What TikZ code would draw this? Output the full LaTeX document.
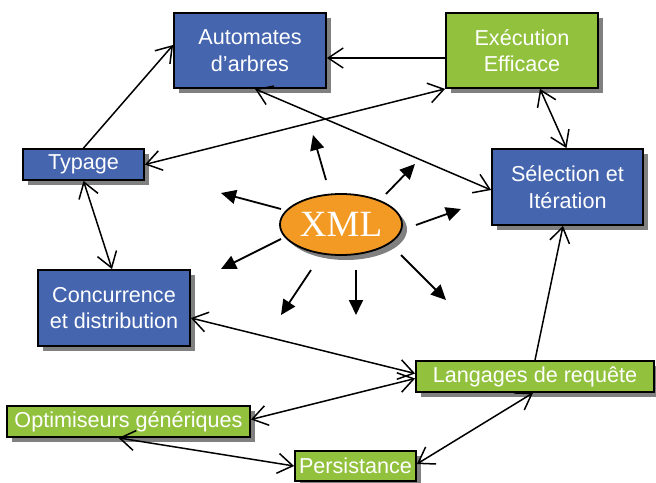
\documentclass[tikz,border=0pt]{standalone}
\usepackage{fontspec}
\setmainfont{Liberation Sans}
\newfontfamily\xmlfont{Liberation Serif}
\usetikzlibrary{shapes.geometric,shadows,arrows.meta}
\definecolor{boxblue}{HTML}{4565AF}
\definecolor{boxgreen}{HTML}{92C13E}
\definecolor{xmlorange}{HTML}{F39A24}
\definecolor{shadowgray}{HTML}{808080}
\tikzset{
  box/.style={draw=black, line width=1.8pt, text=white, align=center, inner sep=0pt,
    font=\fontsize{21.6}{26.5}\selectfont,
    drop shadow={shadow xshift=5pt, shadow yshift=-5pt, fill=shadowgray, opacity=1}},
  bluebox/.style={box, fill=boxblue},
  greenbox/.style={box, fill=boxgreen},
  barb/.tip={Straight Barb[length=15pt,width=20pt,line width=1.5pt]},
  link/.style={line width=1.5pt, -barb},
  dlink/.style={line width=1.5pt, barb-barb},
  ray/.style={line width=1.8pt, -{Triangle[length=15pt,width=14pt]}}
}
\begin{document}
\begin{tikzpicture}[x=1pt,y=-1pt]
\useasboundingbox (0,0) rectangle (656,482);

\node[bluebox, minimum width=152pt, minimum height=75pt] (auto) at (250,50.5) {Automates\\d’arbres};
\node[greenbox, minimum width=152pt, minimum height=75pt] (exe) at (522,50.5) {Exécution\\Efficace};
\node[bluebox, minimum width=151pt, minimum height=76pt] (sel) at (567.5,187) {Sélection et\\Itération};
\node[bluebox, minimum width=121pt, minimum height=31pt] (typ) at (83.5,164.5) {Typage};
\node[bluebox, minimum width=152pt, minimum height=76pt] (con) at (114,308) {Concurrence\\et distribution};
\node[greenbox, minimum width=238pt, minimum height=31pt] (lang) at (535,376.5) {Langages de requête};
\node[greenbox, minimum width=243pt, minimum height=31pt] (opt) at (128.5,421.5) {Optimiseurs génériques};
\node[greenbox, minimum width=121pt, minimum height=30pt] (per) at (355.5,466) {Persistance};

\node[ellipse, draw=black, line width=1.8pt, fill=xmlorange, text=white,
  minimum width=122pt, minimum height=61pt, inner sep=0pt,
  font=\xmlfont\fontsize{37}{37}\selectfont,
  drop shadow={shadow xshift=5pt, shadow yshift=-5pt, fill=shadowgray, opacity=1}] (xml) at (341,224.5) {XML};

% connectors
\draw[link] (typ.north) -- ([yshift=5.5pt]auto.west);
\draw[link] ([yshift=-7.5pt]exe.west) -- ([yshift=-7.5pt]auto.east);
\draw[dlink] ([xshift=5pt]auto.south) -- ([yshift=-3pt]sel.west);
\draw[dlink] (typ.east) -- (exe.south west);
\draw[dlink] ([xshift=18pt]exe.south) -- ([xshift=-1pt]sel.north);
\draw[dlink] (typ.south) -- ([xshift=-2pt]con.north);
\draw[dlink] ([yshift=-10pt]con.east) -- ([yshift=3pt]lang.west);
\draw[link] (lang.north) -- ([xshift=-4.5pt]sel.south);
\draw[dlink] ([yshift=2pt]opt.east) -- ([yshift=-2pt]lang.west);
\draw[dlink] ([xshift=-10pt]opt.south) -- (per.west);
\draw[dlink] ([yshift=2pt]per.east) -- ([xshift=-2pt]lang.south);

% rays from XML
\coordinate (s1) at (326,180); \coordinate (e1) at (313,135);
\coordinate (s2) at (386,194); \coordinate (e2) at (415,164);
\coordinate (s3) at (281,209); \coordinate (e3) at (221,193);
\coordinate (s4) at (416,225); \coordinate (e4) at (461,209);
\coordinate (s5) at (281,239); \coordinate (e5) at (221,269);
\coordinate (s6) at (311,270); \coordinate (e6) at (281,315);
\coordinate (s7) at (356,270); \coordinate (e7) at (356,315);
\coordinate (s8) at (401,255); \coordinate (e8) at (446,300);
\foreach \i in {1,...,8} { \draw[ray] (s\i) -- (e\i); }
\end{tikzpicture}
\end{document}
